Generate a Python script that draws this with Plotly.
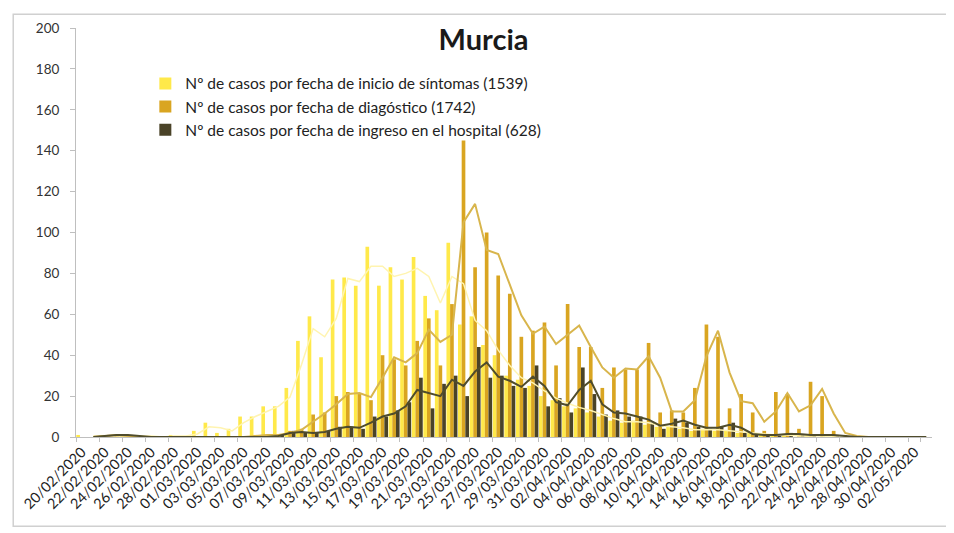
import pandas as pd
import plotly.graph_objects as go

# Categories: one per day 20/02/2020 .. 03/05/2020
dates = pd.date_range("2020-02-20", "2020-05-03", freq="D").strftime("%d/%m/%Y").tolist()
tick_labels = dates[::2]

sintomas = [1, 0, 1, 0, 0, 1, 0, 0, 1, 0,
            3, 7, 2, 4, 10, 10, 15, 15, 24, 47, 59,
            39, 77, 78, 74, 93, 74, 83, 77, 88, 69, 62, 95,
            55, 59, 45, 40, 30, 28, 25, 20, 18, 15, 14, 12, 10, 8, 7, 8, 6, 5, 5, 4,
            3, 4, 3, 3, 2, 2, 1, 1, 1, 0, 1, 0, 0, 0, 0, 0, 0, 0, 0, 0]

diagnostico = [0, 0, 1, 1, 0, 0, 0, 0, 0, 0,
               0, 0, 0, 0, 0, 1, 1, 1,
               3, 4, 11, 12, 20, 22, 21, 18, 40, 38, 35, 47, 58, 35, 65, 145,
               83, 100, 79, 70, 49, 52, 56, 35, 65, 44, 44, 24, 34, 33, 33, 46,
               12, 13, 12, 24, 55, 49, 14, 21, 12, 3, 22, 21, 4, 27, 20, 3, 1,
               0, 0, 0, 0, 0, 0, 0]

hospital = [0, 0, 1, 1, 1, 0, 0, 0, 0, 0,
            0, 0, 0, 0, 0, 0, 0, 1,
            3, 2, 2, 3, 5, 5, 4, 10, 10, 13, 17, 29, 14, 26, 30, 20,
            44, 29, 30, 25, 24, 35, 15, 19, 12, 34, 21, 11, 13, 10, 10, 7,
            4, 9, 7, 5, 4, 5, 7, 2, 1, 1, 1, 2, 1, 1, 1, 1, 0,
            0, 0, 0, 0, 0, 0, 0]

names = ["Nº de casos por fecha de inicio de síntomas (1539)",
         "Nº de casos por fecha de diagóstico (1742)",
         "Nº de casos por fecha de ingreso en el hospital (628)"]
bar_colors = ["#FFE94A", "#D9A521", "#4A4328"]
line_colors = ["#FFF4B0", "#D8B54C", "#4F4C2C"]
line_widths = [1.5, 2, 2]

FONT = "Lato"
fig = go.Figure()
series = [sintomas, diagnostico, hospital]
for s, n, c in zip(series, names, bar_colors):
    fig.add_trace(go.Bar(x=dates, y=s, name=n, marker=dict(color=c, line=dict(width=0))))

# Excel-style 2-period moving average trendlines
for s, c, w in zip(series, line_colors, line_widths):
    ma = pd.Series(s).rolling(2).mean()
    fig.add_trace(go.Scatter(x=dates, y=ma, mode="lines", line=dict(color=c, width=w),
                             showlegend=False, hoverinfo="skip"))

# page body has an 8px margin: plot area spans x 73..932, y 24..437 on screen
L, R, T, B = 65, 30, 16, 104
fig.update_layout(
    width=954, height=533,
    margin=dict(l=L, r=R, t=T, b=B),
    paper_bgcolor="white", plot_bgcolor="white",
    barmode="group", bargap=0.05, bargroupgap=0.0,
    font=dict(family=FONT, size=13, color="#333333"),
    title=dict(text="<b>Murcia</b>", x=(482 - 73) / 859, xref="paper", y=1 - 32 / 533,
               yanchor="middle", xanchor="center",
               font=dict(family=FONT, size=29, color="#1a1a1a")),
    legend=dict(x=0.081, y=0.905, xanchor="left", yanchor="top", bgcolor="rgba(0,0,0,0)",
                font=dict(family=FONT, size=15.5, color="#222222"), tracegroupgap=0,
                itemwidth=30),
    showlegend=True,
)
fig.update_xaxes(type="category", tickmode="array", tickvals=tick_labels, ticktext=tick_labels,
                 tickangle=-45, tickfont=dict(family=FONT, size=14.5, color="#1f1f1f"),
                 showline=True, linecolor="#BFBFBF", linewidth=1, ticks="outside",
                 ticklen=4, tickcolor="#BFBFBF", tickson="boundaries", showgrid=False,
                 range=[-0.5, len(dates) - 0.5])
fig.update_yaxes(range=[0, 200], dtick=20, showgrid=False, zeroline=False,
                 showline=True, linecolor="#BFBFBF", linewidth=1, ticks="outside",
                 ticklen=5, tickcolor="#BFBFBF", ticklabelstandoff=8,
                 tickfont=dict(family=FONT, size=13.5, color="#333333"))

# chart border
fig.add_shape(type="rect", xref="paper", yref="paper",
              x0=(10 - 73) / 859, x1=(950 - 73) / 859, y0=(437 - 527) / 413, y1=(437 - 10) / 413,
              line=dict(color="#D0D0D0", width=1.5), fillcolor="rgba(0,0,0,0)", layer="below")

fig.write_html("out.html")
